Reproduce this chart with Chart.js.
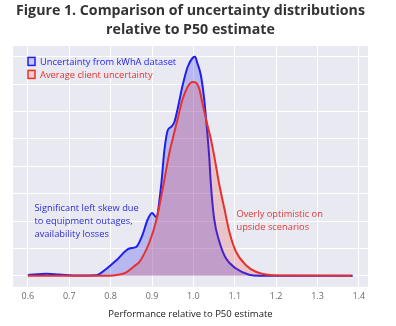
<!DOCTYPE html>
<html>
<head>
<meta charset="utf-8">
<script src="https://cdn.jsdelivr.net/npm/chart.js@4"></script>
<style>
  body { margin: 0; background: #fff; }
  #wrap { width: 396px; height: 326px; }
</style>
</head>
<body>
<div id="wrap"><canvas id="dist" width="396" height="326"></canvas></div>
<script>
// Density curves (performance relative to P50 vs density)
const xKwha = [0.60, 0.645, 0.676, 0.724, 0.765, 0.79, 0.816, 0.845, 0.862, 0.877, 0.889, 0.90, 0.91, 0.922, 0.93, 0.938, 0.946, 0.954, 0.962, 0.974, 0.986, 0.998, 1.004, 1.01, 1.018, 1.026, 1.032, 1.038, 1.042, 1.05, 1.063, 1.079, 1.103, 1.135, 1.16, 1.385];
const yKwha = [0.03, 0.08, 0.05, 0.01, 0.02, 0.26, 0.6, 1.0, 1.06, 1.5, 2.04, 2.3, 2.15, 3.3, 4.6, 5.32, 5.44, 5.62, 6.11, 6.96, 7.63, 7.96, 8.0, 7.75, 7.33, 6.47, 5.5, 4.4, 3.4, 2.1, 1.24, 0.63, 0.27, 0.04, 0.0, 0.0];

const xClient = [0.60, 0.797, 0.821, 0.837, 0.861, 0.869, 0.893, 0.91, 0.926, 0.942, 0.95, 0.962, 0.974, 0.986, 0.998, 1.006, 1.014, 1.022, 1.032, 1.042, 1.05, 1.063, 1.075, 1.087, 1.103, 1.127, 1.151, 1.175, 1.208, 1.381];
const yClient = [0.0, 0.0, 0.05, 0.12, 0.4, 0.5, 1.2, 2.0, 3.2, 4.5, 5.01, 5.74, 6.46, 6.9, 7.08, 7.06, 6.84, 6.3, 5.62, 5.01, 4.4, 3.3, 2.45, 1.6, 0.88, 0.39, 0.15, 0.05, 0.01, 0.0];

const seriesNames = ['Uncertainty from kWhA dataset', 'Average client uncertainty'];
const titleLines = ['Figure 1. Comparison of uncertainty distributions', 'relative to P50 estimate'];
const xTitle = 'Performance relative to P50 estimate';

const noteSkew = ['Significant left skew due', 'to equipment outages,', 'availability losses'];
const noteUpside = ['Overly optimistic on', 'upside scenarios'];

const BLUE = '#1f1ff0';
const RED = '#e8302e';
const FONT = "'Open Sans', sans-serif";

const toPoints = (xs, ys) => xs.map((x, i) => ({ x: x, y: ys[i] }));

// grey plot background behind the grid
const plotBg = {
    id: 'plotBg',
    beforeDraw(chart) {
        const { ctx, chartArea: a } = chart;
        ctx.save();
        ctx.fillStyle = '#e9e9f1';
        ctx.fillRect(a.left, a.top, a.right - a.left, a.bottom - a.top);
        ctx.restore();
    }
};

// legend boxes inside the plot + the two text notes
const overlay = {
    id: 'overlay',
    afterDraw(chart) {
        const { ctx, chartArea: a, scales } = chart;
        ctx.save();
        ctx.font = '9.3px ' + FONT;
        ctx.textBaseline = 'middle';
        const legendCols = [[BLUE, 'rgba(31,31,240,0.25)'], [RED, 'rgba(232,48,46,0.25)']];
        seriesNames.forEach((name, i) => {
            const y = a.top + 16 + i * 13;
            ctx.fillStyle = '#fff';
            ctx.fillRect(a.left + 15, y - 4.5, 7, 8);
            ctx.fillStyle = legendCols[i][1];
            ctx.fillRect(a.left + 15, y - 4.5, 7, 8);
            ctx.strokeStyle = legendCols[i][0];
            ctx.lineWidth = 1.5;
            ctx.strokeRect(a.left + 15, y - 4.5, 7, 8);
            ctx.fillStyle = legendCols[i][0];
            ctx.fillText(name, a.left + 27, y);
        });

        ctx.font = '9.3px ' + FONT;
        ctx.fillStyle = '#2b2bd8';
        let x0 = scales.x.getPixelForValue(0.616);
        let y0 = scales.y.getPixelForValue(2.48);
        noteSkew.forEach((t, i) => ctx.fillText(t, x0, y0 + i * 13));

        ctx.fillStyle = '#e03a36';
        x0 = scales.x.getPixelForValue(1.104);
        y0 = scales.y.getPixelForValue(2.23);
        noteUpside.forEach((t, i) => ctx.fillText(t, x0, y0 + i * 12.5));
        ctx.restore();
    }
};

new Chart(document.getElementById('dist'), {
    type: 'line',
    data: {
        datasets: [{
            label: seriesNames[0],
            data: toPoints(xKwha, yKwha),
            borderColor: BLUE,
            backgroundColor: 'rgba(31,31,240,0.24)',
            fill: 'origin',
            order: 2
        }, {
            label: seriesNames[1],
            data: toPoints(xClient, yClient),
            borderColor: RED,
            backgroundColor: 'rgba(232,48,46,0.2)',
            fill: 'origin',
            order: 1
        }]
    },
    options: {
        responsive: false,
        animation: false,
        layout: { padding: { left: 13, right: 28, top: 2, bottom: 6 } },
        elements: {
            point: { radius: 0 },
            line: { borderWidth: 2, cubicInterpolationMode: 'monotone' }
        },
        plugins: {
            legend: { display: false },
            tooltip: { enabled: false },
            title: {
                display: true,
                text: titleLines,
                color: '#333',
                font: { family: FONT, size: 14.2, weight: 'bold', lineHeight: 1.3 },
                padding: { top: 0, bottom: 7 }
            }
        },
        scales: {
            x: {
                type: 'linear',
                min: 0.564,
                max: 1.422,
                border: { display: false },
                grid: { color: '#fff', lineWidth: 1, drawTicks: false },
                ticks: {
                    stepSize: 0.1,
                    includeBounds: false,
                    padding: 4,
                    color: '#6b6b6b',
                    font: { family: FONT, size: 9 },
                    callback: v => v.toFixed(1)
                },
                title: {
                    display: true,
                    text: xTitle,
                    color: '#222',
                    font: { family: FONT, size: 9.5 },
                    padding: { top: 3, bottom: 0 }
                }
            },
            y: {
                min: -0.4,
                max: 8.4,
                border: { display: false },
                grid: { color: '#fff', lineWidth: 1, drawTicks: false },
                ticks: { display: false, stepSize: 1, includeBounds: false }
            }
        }
    },
    plugins: [plotBg, overlay]
});
</script>
</body>
</html>
